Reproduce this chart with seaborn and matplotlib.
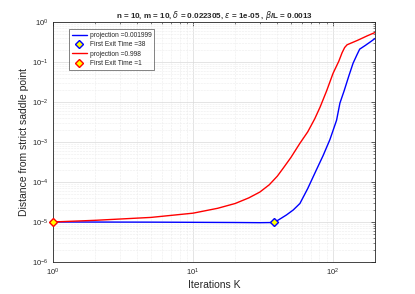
import numpy as np
import pandas as pd
import matplotlib
matplotlib.use("Agg")
import matplotlib.pyplot as plt
import seaborn as sns

# values (log-log axes)
iter_blue = [1, 5, 10, 20, 30, 38, 42, 46.5, 52, 58, 66, 76, 85, 95, 106, 112,
             120, 130, 139, 148, 155, 170, 185, 200]
dist_blue = [1.0e-5, 0.99e-5, 0.98e-5, 0.97e-5, 0.96e-5, 0.97e-5, 1.2e-5, 1.5e-5,
             2.0e-5, 2.9e-5, 6.9e-5, 2.0e-4, 4.6e-4, 1.15e-3, 3.5e-3, 9.4e-3,
             0.019, 0.046, 0.093, 0.15, 0.21, 0.26, 0.32, 0.39]

iter_red = [1, 2, 5, 10, 15, 20, 25, 30, 35, 40, 44, 50, 58, 66, 74, 81, 90,
            100, 110, 116, 121, 126, 150, 175, 200]
dist_red = [1.0e-5, 1.1e-5, 1.3e-5, 1.66e-5, 2.2e-5, 2.9e-5, 4.0e-5, 5.6e-5,
            8.5e-5, 1.4e-4, 2.2e-4, 4.1e-4, 9.3e-4, 1.8e-3, 3.8e-3, 7.6e-3,
            0.019, 0.052, 0.105, 0.17, 0.23, 0.27, 0.35, 0.45, 0.55]

exit_blue = (38, 0.97e-5)
exit_red = (1, 1.0e-5)

labels = ["projection =0.001999", "First Exit Time =38",
          "projection =0.998", "First Exit Time =1"]

df = pd.concat([
    pd.DataFrame({"K": iter_blue, "dist": dist_blue, "run": labels[0]}),
    pd.DataFrame({"K": iter_red, "dist": dist_red, "run": labels[2]}),
])

sns.set_style("white")
plt.rcParams["font.family"] = ["Liberation Sans", "DejaVu Sans"]

fig = plt.figure(figsize=(4.15, 2.94), dpi=100)
ax = fig.add_axes([0.128, 0.109, 0.776, 0.816])

sns.lineplot(data=df, x="K", y="dist", hue="run", sort=False, estimator=None,
             palette={labels[0]: "#0000ff", labels[2]: "#ff0000"},
             linewidth=1.0, ax=ax, legend=False)

ax.plot(*exit_blue, marker="D", ms=4.5, mfc="#ffff00", mec="#0000ff", mew=1.0,
        ls="none")
ax.plot(*exit_red, marker="D", ms=4.5, mfc="#ffff00", mec="#ff0000", mew=1.0,
        ls="none", clip_on=False, zorder=5)

ax.set_xscale("log")
ax.set_yscale("log")
ax.set_xlim(1, 200)
ax.set_ylim(1e-6, 1)
ax.set_yticks([1e-6, 1e-5, 1e-4, 1e-3, 1e-2, 1e-1, 1e0])

ax.grid(True, which="major", color="#d9d9d9", lw=0.5)
ax.grid(True, which="minor", color="#ececec", lw=0.4, ls="--")
ax.tick_params(which="both", direction="in", top=True, right=True,
               labelsize=5.5, labelcolor="#262626", color="#262626")
ax.tick_params(which="major", length=3, width=0.5)
ax.tick_params(which="minor", length=1.5, width=0.4)
for s in ax.spines.values():
    s.set_color("#262626")
    s.set_linewidth(0.6)

ax.set_xlabel("Iterations K", fontsize=7.5, color="#262626", labelpad=1)
ax.set_ylabel("Distance from strict saddle point", fontsize=7.5,
              color="#262626", labelpad=2)
ax.set_title(r"n = 10, m = 10, $\delta$ = 0.022305, $\epsilon$ = 1e-05 , $\beta$/L = 0.0013",
             fontsize=5.8, fontweight="bold", pad=3)

handles = [
    plt.Line2D([], [], color="#0000ff", lw=1.0),
    plt.Line2D([], [], marker="D", ms=4.5, mfc="#ffff00", mec="#0000ff", ls="none"),
    plt.Line2D([], [], color="#ff0000", lw=1.0),
    plt.Line2D([], [], marker="D", ms=4.5, mfc="#ffff00", mec="#ff0000", ls="none"),
]
leg = ax.legend(handles, labels, loc="upper left", bbox_to_anchor=(0.05, 0.97),
                fontsize=4.8, frameon=True, fancybox=False, handlelength=2.2,
                handletextpad=0.5, borderpad=0.4, labelspacing=0.35,
                borderaxespad=0)
leg.get_frame().set_edgecolor("#262626")
leg.get_frame().set_linewidth(0.5)

fig.savefig("out.png", dpi=100)
